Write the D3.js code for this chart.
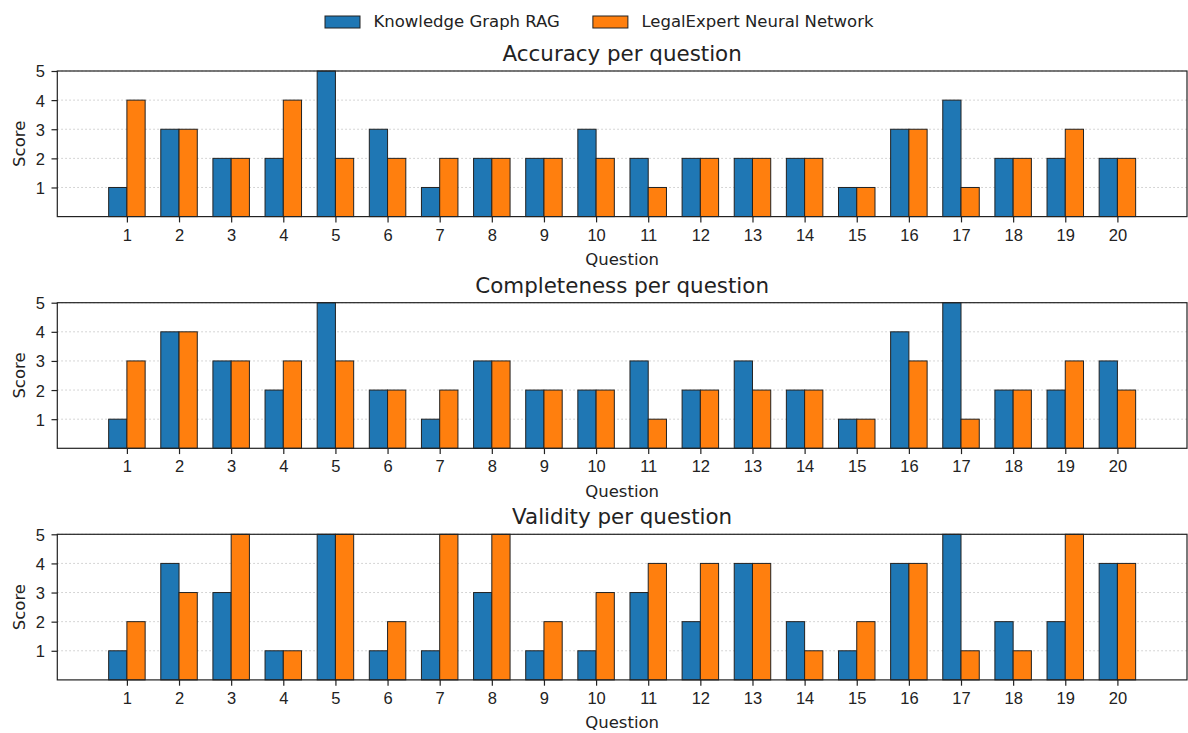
<!DOCTYPE html>
<html lang="en">
<head>
<meta charset="utf-8">
<title>Scores per question</title>
<script src="https://cdnjs.cloudflare.com/ajax/libs/d3/7.8.5/d3.min.js"></script>
<style>
    body { margin: 0; background: #fff; }
    svg { display: block; font-family: "DejaVu Sans", sans-serif; }
    .tick text { fill: #222; font-size: 16.5px; }
    .tick line { stroke: #222; stroke-width: 1.2; }
    .grid line { stroke: #c8c8c8; stroke-width: 1; stroke-dasharray: 1.5,2.5; }
    .bar { stroke: #222; stroke-width: 1; }
</style>
</head>
<body>
<svg width="1188" height="733"></svg>
<script>
// data
var questions = d3.range(1, 21);
var seriesNames = ["Knowledge Graph RAG", "LegalExpert Neural Network"];
var colors = ["#1f77b4", "#ff7f0e"];
var yTicks = [1, 2, 3, 4, 5];

var accuracyKG = [1, 3, 2, 2, 5, 3, 1, 2, 2, 3, 2, 2, 2, 2, 1, 3, 4, 2, 2, 2];
var accuracyLE = [4, 3, 2, 4, 2, 2, 2, 2, 2, 2, 1, 2, 2, 2, 1, 3, 1, 2, 3, 2];
var completenessKG = [1, 4, 3, 2, 5, 2, 1, 3, 2, 2, 3, 2, 3, 2, 1, 4, 5, 2, 2, 3];
var completenessLE = [3, 4, 3, 3, 3, 2, 2, 3, 2, 2, 1, 2, 2, 2, 1, 3, 1, 2, 3, 2];
var validityKG = [1, 4, 3, 1, 5, 1, 1, 3, 1, 1, 3, 2, 4, 2, 1, 4, 5, 2, 2, 4];
var validityLE = [2, 3, 5, 1, 5, 2, 5, 5, 2, 3, 4, 4, 4, 1, 2, 4, 1, 1, 5, 4];

var panels = [
    { title: "Accuracy per question", values: [accuracyKG, accuracyLE] },
    { title: "Completeness per question", values: [completenessKG, completenessLE] },
    { title: "Validity per question", values: [validityKG, validityLE] }
];

var svg = d3.select("svg");
var left = 57.3, right = 1187,
    panelH = 145.6,
    tops = [71, 302.7, 534.3],
    barW = 0.35;

var x = d3.scaleLinear().domain([-0.335, 21.335]).range([left, right]);

panels.forEach(function(p, k) {
    var y = d3.scaleLinear().domain([0, 5]).range([panelH, 0]);
    var g = svg.append("g").attr("transform", "translate(0," + tops[k] + ")");

    // grid
    g.append("g").attr("class", "grid")
        .selectAll("line").data(yTicks).enter().append("line")
        .attr("x1", left).attr("x2", right)
        .attr("y1", function(d) { return y(d); })
        .attr("y2", function(d) { return y(d); });

    // bars
    p.values.forEach(function(vals, s) {
        g.selectAll(".bar.s" + s)
            .data(vals)
            .enter().append("rect")
            .attr("class", "bar s" + s)
            .attr("fill", colors[s])
            .attr("x", function(d, i) { return x(questions[i] - barW + s * barW); })
            .attr("width", x(barW) - x(0))
            .attr("y", function(d) { return y(d); })
            .attr("height", function(d) { return panelH - y(d); });
    });

    // axes
    var xa = g.append("g")
        .attr("transform", "translate(0," + panelH + ")")
        .call(d3.axisBottom(x).tickValues(questions).tickFormat(d3.format("d"))
            .tickSize(5.8).tickSizeOuter(0).tickPadding(6.5));
    xa.select(".domain").remove();

    var ya = g.append("g")
        .attr("transform", "translate(" + left + ",0)")
        .call(d3.axisLeft(y).tickValues(yTicks).tickFormat(d3.format("d"))
            .tickSize(5.8).tickSizeOuter(0).tickPadding(6.5));
    ya.select(".domain").remove();
    ya.selectAll(".tick text").attr("dy", "0.36em");

    // frame
    g.append("rect")
        .attr("x", left).attr("y", 0)
        .attr("width", right - left).attr("height", panelH)
        .attr("fill", "none").attr("stroke", "#222").attr("stroke-width", 1.2);

    g.append("text")
        .attr("x", (left + right) / 2)
        .attr("y", -10)
        .attr("text-anchor", "middle")
        .attr("font-size", "21.4px")
        .attr("fill", "#222")
        .text(p.title);

    g.append("text")
        .attr("x", (left + right) / 2)
        .attr("y", panelH + 48.5)
        .attr("text-anchor", "middle")
        .attr("font-size", "16.5px")
        .attr("fill", "#222")
        .text("Question");

    g.append("text")
        .attr("transform", "translate(25," + (panelH / 2) + ") rotate(-90)")
        .attr("text-anchor", "middle")
        .attr("font-size", "16.5px")
        .attr("fill", "#222")
        .text("Score");
});

// legend
var lx = 325;
seriesNames.forEach(function(name, s) {
    svg.append("rect")
        .attr("x", lx).attr("y", 16)
        .attr("width", 35).attr("height", 12)
        .attr("fill", colors[s]).attr("stroke", "#222").attr("stroke-width", 1);
    var t = svg.append("text")
        .attr("x", lx + 48.5).attr("y", 27)
        .attr("font-size", "16.5px")
        .attr("fill", "#222")
        .text(name);
    lx = lx + 48.5 + t.node().getComputedTextLength() + 33;
});
</script>
</body>
</html>
